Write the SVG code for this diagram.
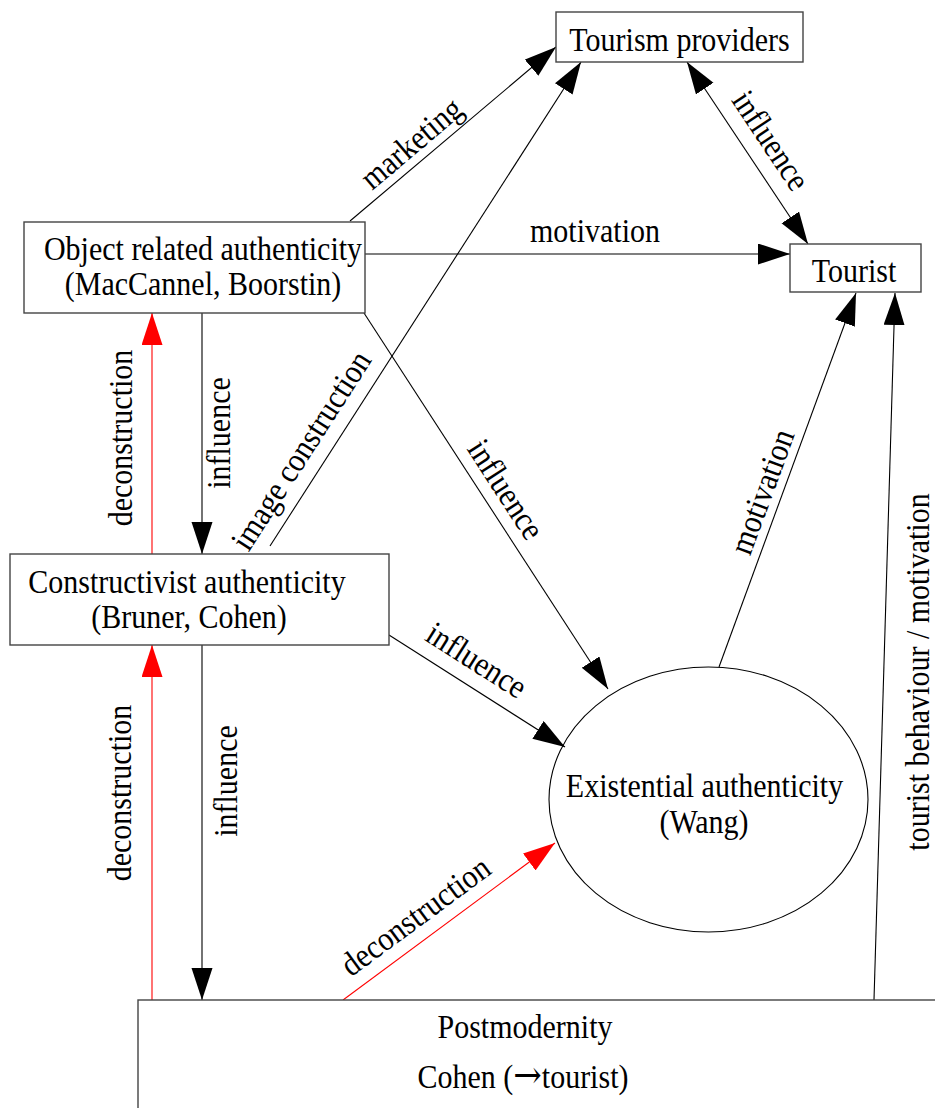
<svg xmlns="http://www.w3.org/2000/svg" width="935" height="1108" viewBox="0 0 935 1108">
  <style>
    text { font-size: 30px; fill: #000; }
    .c { text-anchor: middle; }
    .box { fill: #fff; stroke: #444; stroke-width: 1.4; }
    .link { fill: none; stroke: #000; stroke-width: 1.1; marker-end: url(#ah); }
    .red { fill: none; stroke: #f00; stroke-width: 1.1; marker-end: url(#ahr); }
  </style>
  <defs>
    <marker id="ah" markerUnits="userSpaceOnUse" markerWidth="33" markerHeight="22" refX="32" refY="10.5" orient="auto-start-reverse">
      <path d="M0,0 L32,10.5 L0,21 z" fill="#000"/>
    </marker>
    <marker id="ahr" markerUnits="userSpaceOnUse" markerWidth="33" markerHeight="22" refX="32" refY="10.5" orient="auto">
      <path d="M0,0 L32,10.5 L0,21 z" fill="#f00"/>
    </marker>
  </defs>
  <rect width="935" height="1108" fill="#fff"/>

  <g font-family="Liberation Serif, DejaVu Serif, serif">
  <g id="connectors">
    <line class="link" x1="350" y1="221" x2="556" y2="47"/>
    <line class="link" x1="270" y1="546" x2="581" y2="62"/>
    <line class="link" x1="365" y1="254" x2="790" y2="254"/>
    <line class="link" x1="687" y1="62" x2="808" y2="244" marker-start="url(#ah)"/>
    <line class="link" x1="364" y1="313" x2="608" y2="689"/>
    <line class="link" x1="202" y1="313" x2="202" y2="554"/>
    <line class="red" x1="152" y1="554" x2="152" y2="313"/>
    <line class="link" x1="202" y1="645" x2="202" y2="1000"/>
    <line class="red" x1="152" y1="1000" x2="152" y2="645"/>
    <line class="link" x1="389" y1="635" x2="565" y2="747"/>
    <line class="red" x1="343" y1="1000" x2="555" y2="843"/>
    <line class="link" x1="719" y1="667" x2="856" y2="293"/>
    <line class="link" x1="874" y1="1000" x2="895" y2="293"/>

    <!-- edge labels: glyphs are drawn slightly tall (scale 1 x 1.12) -->
    <text class="c" transform="translate(412,144) rotate(-40.2) scale(1,1.12)" y="9">marketing</text>
    <text class="c" transform="translate(302,451) rotate(-57.3) scale(1,1.12)" y="9">image construction</text>
    <text class="c" transform="translate(595,242) scale(1,1.12)">motivation</text>
    <text class="c" transform="translate(770,141) rotate(56.3) scale(1,1.12)" y="9">influence</text>
    <text class="c" transform="translate(505,490) rotate(57) scale(1,1.12)" y="9">influence</text>
    <text class="c" transform="translate(220,433) rotate(-90) scale(1,1.12)" y="9">influence</text>
    <text class="c" transform="translate(122,438) rotate(-90) scale(1,1.12)" y="9">deconstruction</text>
    <text class="c" transform="translate(227,781) rotate(-90) scale(1,1.12)" y="9">influence</text>
    <text class="c" transform="translate(121,793) rotate(-90) scale(1,1.12)" y="9">deconstruction</text>
    <text class="c" transform="translate(476,661) rotate(32.5) scale(1,1.12)" y="9">influence</text>
    <text class="c" transform="translate(416,917) rotate(-36.5) scale(1,1.12)" y="9">deconstruction</text>
    <text class="c" transform="translate(763,492) rotate(-69.8) scale(1,1.12)" y="9">motivation</text>
    <text class="c" transform="translate(919,672) rotate(-90) scale(1,1.12)" y="9">tourist behaviour / motivation</text>
  </g>

  <g id="tourism-providers">
    <rect class="box" x="556" y="12" width="247" height="50"/>
    <text class="c" transform="translate(679.5,51) scale(1,1.12)">Tourism providers</text>
  </g>

  <g id="tourist">
    <rect class="box" x="790" y="244" width="131" height="48"/>
    <text class="c" transform="translate(854,282) scale(1,1.12)">Tourist</text>
  </g>

  <g id="object-related">
    <rect class="box" x="24" y="222" width="341" height="91"/>
    <text class="c" transform="translate(203,260) scale(1,1.12)">Object related authenticity</text>
    <text class="c" transform="translate(203,295) scale(1,1.12)">(MacCannel, Boorstin)</text>
  </g>

  <g id="constructivist">
    <rect class="box" x="10" y="554" width="379" height="91"/>
    <text class="c" transform="translate(187,593) scale(1,1.12)">Constructivist authenticity</text>
    <text class="c" transform="translate(189,628) scale(1,1.12)">(Bruner, Cohen)</text>
  </g>

  <g id="existential">
    <ellipse cx="708.5" cy="799.5" rx="159.5" ry="132.5" fill="none" stroke="#000" stroke-width="1.1"/>
    <text class="c" transform="translate(704.5,797) scale(1,1.12)">Existential authenticity</text>
    <text class="c" transform="translate(704,833) scale(1,1.12)">(Wang)</text>
  </g>

  <g id="postmodernity">
    <rect class="box" x="138" y="1000" width="830" height="140"/>
    <text class="c" transform="translate(525,1038) scale(1,1.12)">Postmodernity</text>
    <text class="c" transform="translate(523,1088) scale(1,1.12)">Cohen (<tspan font-family="DejaVu Serif, serif" font-size="34">→</tspan>tourist)</text>
  </g>
  </g>
</svg>
